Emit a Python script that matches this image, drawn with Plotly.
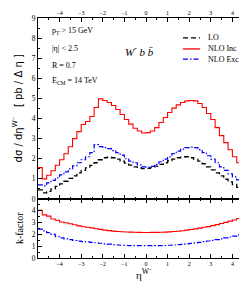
import plotly.graph_objects as go

# bin centres of the eta histogram (width 0.2)
eta = [round(-4.9 + 0.2 * i, 1) for i in range(50)]
bin_width = 0.2

lo = [0.45, 0.30, 0.38, 0.50, 0.63, 0.75, 0.88, 1.02, 1.15, 1.30,
      1.42, 1.55, 1.67, 1.80, 1.95, 2.05, 2.08, 2.05, 1.98, 1.88,
      1.78, 1.68, 1.60, 1.54, 1.51, 1.52, 1.56, 1.63, 1.72, 1.80,
      1.90, 1.98, 2.05, 2.08, 2.10, 2.05, 1.98, 1.88, 1.75, 1.60,
      1.45, 1.30, 1.15, 0.98, 0.85, 0.72, 0.58, 0.45, 0.35, 0.28]

nlo_inc = [1.56, 1.00, 1.18, 1.40, 1.68, 1.95, 2.25, 2.60, 3.00, 3.35,
           3.70, 3.85, 4.10, 4.55, 4.98, 4.90, 4.80, 4.65, 4.45, 4.20,
           3.95, 3.72, 3.52, 3.38, 3.28, 3.30, 3.38, 3.55, 3.80, 4.05,
           4.30, 4.52, 4.68, 4.80, 4.88, 4.90, 4.88, 4.75, 4.55, 4.25,
           3.95, 3.55, 3.15, 2.80, 2.45, 2.10, 1.80, 1.50, 1.25, 1.00]

nlo_exc = [0.70, 0.65, 0.80, 0.92, 1.05, 1.20, 1.35, 1.50, 1.65, 1.80,
           1.95, 2.10, 2.30, 2.70, 2.60, 2.55, 2.50, 2.40, 2.30, 2.18,
           2.00, 1.88, 1.80, 1.70, 1.60, 1.58, 1.62, 1.72, 1.85, 1.98,
           2.10, 2.25, 2.38, 2.48, 2.55, 2.58, 2.55, 2.45, 2.30, 2.15,
           1.98, 1.80, 1.60, 1.42, 1.25, 1.10, 0.95, 0.82, 0.68, 0.55]

k_inc = [4.05, 3.65, 3.55, 3.30, 3.20, 3.05, 2.98, 2.90, 2.82, 2.72,
         2.65, 2.60, 2.55, 2.48, 2.42, 2.36, 2.32, 2.28, 2.25, 2.22,
         2.20, 2.19, 2.18, 2.17, 2.16, 2.16, 2.17, 2.17, 2.18, 2.19,
         2.21, 2.24, 2.27, 2.31, 2.36, 2.41, 2.47, 2.53, 2.60, 2.66,
         2.74, 2.83, 2.92, 3.02, 3.12, 3.22, 3.35, 3.48, 3.60, 3.80]

k_exc = [2.45, 2.30, 2.15, 2.00, 1.80, 1.70, 1.62, 1.55, 1.48, 1.43,
         1.39, 1.36, 1.33, 1.29, 1.25, 1.20, 1.17, 1.13, 1.10, 1.08,
         1.06, 1.05, 1.04, 1.04, 1.04, 1.04, 1.04, 1.05, 1.05, 1.06,
         1.08, 1.10, 1.13, 1.16, 1.20, 1.24, 1.28, 1.33, 1.38, 1.44,
         1.50, 1.56, 1.62, 1.70, 1.78, 1.86, 1.95, 2.05, 2.12, 2.18]

x_ticks = [-4, -3, -2, -1, 0, 1, 2, 3, 4]
main_y_ticks = list(range(0, 10))
k_y_ticks = [0, 1, 2, 3, 4]

RED = "#ff0000"
BLUE = "#0000ff"
BLACK = "#000000"
SERIF = "Liberation Serif"


def edges(centres):
    e = [c - bin_width / 2 for c in centres]
    e.append(centres[-1] + bin_width / 2)
    return e


def steps(vals):
    return list(vals) + [vals[-1]]


xe = edges(eta)
fig = go.Figure()

fig.add_trace(go.Scatter(x=xe, y=steps(lo), mode="lines", line_shape="hv",
                         line=dict(color=BLACK, width=1.3, dash="5px,3px"),
                         xaxis="x", yaxis="y", name="LO", showlegend=False))
fig.add_trace(go.Scatter(x=xe, y=steps(nlo_inc), mode="lines", line_shape="hv",
                         line=dict(color=RED, width=1.1),
                         xaxis="x", yaxis="y", name="NLO Inc", showlegend=False))
fig.add_trace(go.Scatter(x=xe, y=steps(nlo_exc), mode="lines", line_shape="hv",
                         line=dict(color=BLUE, width=1.2, dash="5px,2px,1.5px,2px"),
                         xaxis="x", yaxis="y", name="NLO Exc", showlegend=False))

fig.add_trace(go.Scatter(x=xe, y=steps(k_inc), mode="lines", line_shape="hv",
                         line=dict(color=RED, width=1.1),
                         xaxis="x2", yaxis="y2", showlegend=False))
fig.add_trace(go.Scatter(x=xe, y=steps(k_exc), mode="lines", line_shape="hv",
                         line=dict(color=BLUE, width=1.2, dash="5px,2px,1.5px,2px"),
                         xaxis="x2", yaxis="y2", showlegend=False))

k_top = 0.246
axis_common = dict(showline=True, linecolor=BLACK, linewidth=1, mirror="ticks",
                   ticks="inside", ticklen=4, tickcolor=BLACK, tickwidth=1,
                   showgrid=False, zeroline=False)

fig.update_layout(
    width=247, height=281,
    margin=dict(l=30, r=1, t=10, b=31),
    paper_bgcolor="white", plot_bgcolor="white",
    font=dict(family=SERIF, color=BLACK, size=8),
    showlegend=False,
    xaxis=dict(axis_common, domain=[0, 1], anchor="y", side="top", range=[-5, 5],
               tickvals=x_ticks, tickfont=dict(size=6, family=SERIF),
               minor=dict(ticks="inside", dtick=0.5, ticklen=2, tickcolor=BLACK)),
    yaxis=dict(axis_common, domain=[k_top, 1], anchor="x", range=[0, 9],
               tickvals=main_y_ticks, tickfont=dict(size=7.5, family=SERIF),
               minor=dict(ticks="inside", dtick=0.5, ticklen=2, tickcolor=BLACK)),
    xaxis2=dict(axis_common, domain=[0, 1], anchor="y2", side="bottom", range=[-5, 5],
                tickvals=x_ticks, tickfont=dict(size=6, family=SERIF),
                minor=dict(ticks="inside", dtick=0.5, ticklen=2, tickcolor=BLACK)),
    yaxis2=dict(axis_common, domain=[0, k_top], anchor="x2", range=[0, 5],
                tickvals=k_y_ticks, tickfont=dict(size=7.5, family=SERIF),
                minor=dict(ticks="inside", dtick=0.5, ticklen=2, tickcolor=BLACK)),
)

# axis titles
fig.add_annotation(text="dσ / dη<sup>W⁻</sup>   [ pb / Δ η ]",
                   xref="paper", yref="paper", x=-0.093, y=(k_top + 1) / 2,
                   textangle=-90, showarrow=False, xanchor="center", yanchor="middle",
                   font=dict(size=10, family="DejaVu Sans"))
fig.add_annotation(text="k-factor", xref="paper", yref="paper", x=-0.085, y=k_top / 2,
                   textangle=-90, showarrow=False, xanchor="center", yanchor="middle",
                   font=dict(size=10, family=SERIF))
fig.add_annotation(text="η<sup>W⁻</sup>", xref="paper", yref="paper",
                   x=0.49, y=-0.066, showarrow=False, xanchor="center", yanchor="middle",
                   font=dict(size=11, family=SERIF))

# physics labels
info = ["p<sub>T</sub> > 15 GeV", "|η| < 2.5", "R = 0.7", "E<sub>CM</sub> = 14 TeV"]
info_y = [0.946, 0.875, 0.804, 0.7375]
for t, yy in zip(info, info_y):
    fig.add_annotation(text=t, xref="paper", yref="paper", x=0.055, y=yy,
                       showarrow=False, xanchor="left", yanchor="middle",
                       font=dict(size=8, family=SERIF))
fig.add_annotation(text="<i>W</i><sup>-</sup> <i>b b̄</i>", xref="paper", yref="paper",
                   x=0.472, y=0.8625, showarrow=False, xanchor="center", yanchor="middle",
                   font=dict(size=11, family=SERIF))

# legend
leg_names = ["LO", "NLO Inc", "NLO Exc"]
leg_colors = [BLACK, RED, BLUE]
leg_dash = ["5px,3px", "solid", "5px,2px,1.5px,2px"]
leg_y = [0.917, 0.871, 0.829]
for n, c, d, yy in zip(leg_names, leg_colors, leg_dash, leg_y):
    fig.add_shape(type="line", xref="paper", yref="paper", x0=0.671, x1=0.75, y0=yy, y1=yy,
                  line=dict(color=c, width=1.3, dash=d))
    fig.add_annotation(text=n, xref="paper", yref="paper", x=0.778, y=yy,
                       showarrow=False, xanchor="left", yanchor="middle",
                       font=dict(size=8, family=SERIF))

fig.write_html("out.html")
